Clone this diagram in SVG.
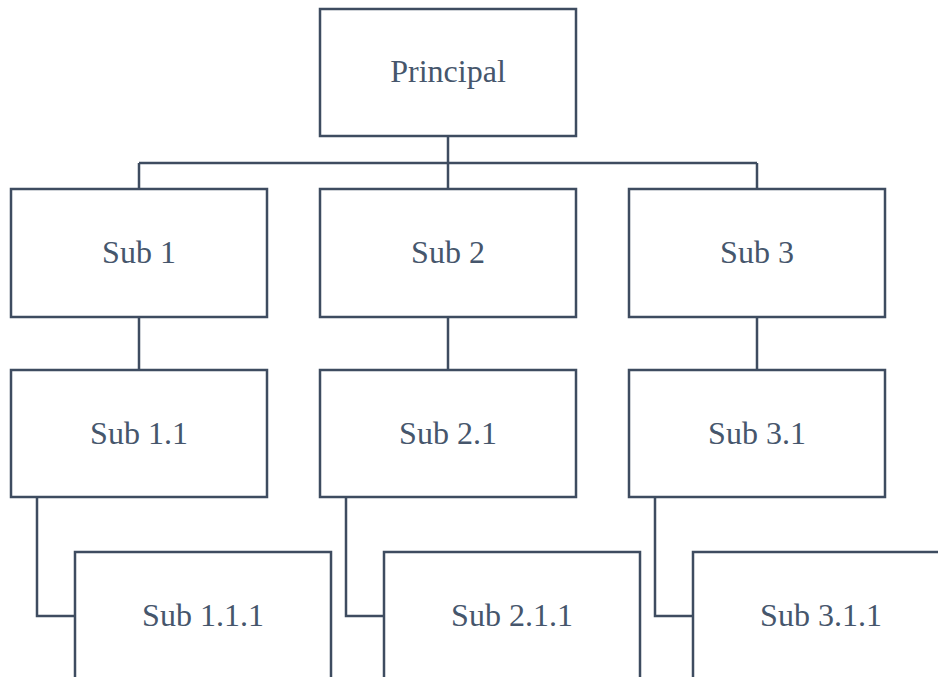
<svg xmlns="http://www.w3.org/2000/svg" width="938" height="677" viewBox="0 0 938 677">
<style>
.box{fill:#ffffff;stroke:#3e4c60;stroke-width:2.5}
.lbl{font-family:"Liberation Serif","Times New Roman",serif;font-size:32px;fill:#46566c;text-anchor:middle}
.con{fill:none;stroke:#3e4c60;stroke-width:2.5}
</style>
<rect width="938" height="677" fill="#ffffff"/>
<g id="connectors">
<path class="con" d="M448 136V189M139 163H757M139 163V189M757 163V189"/>
<path class="con" d="M139 317V370M448 317V370M757 317V370"/>
<path class="con" d="M37 497V616H75M346 497V616H384M655 497V616H693"/>
</g>
<g id="principal"><rect class="box" x="320" y="9" width="256" height="127"/><text class="lbl" x="448" y="82">Principal</text></g>
<g id="sub1"><rect class="box" x="11" y="189" width="256" height="128"/><text class="lbl" x="139" y="263">Sub 1</text></g>
<g id="sub2"><rect class="box" x="320" y="189" width="256" height="128"/><text class="lbl" x="448" y="263">Sub 2</text></g>
<g id="sub3"><rect class="box" x="629" y="189" width="256" height="128"/><text class="lbl" x="757" y="263">Sub 3</text></g>
<g id="sub1_1"><rect class="box" x="11" y="370" width="256" height="127"/><text class="lbl" x="139" y="444">Sub 1.1</text></g>
<g id="sub2_1"><rect class="box" x="320" y="370" width="256" height="127"/><text class="lbl" x="448" y="444">Sub 2.1</text></g>
<g id="sub3_1"><rect class="box" x="629" y="370" width="256" height="127"/><text class="lbl" x="757" y="444">Sub 3.1</text></g>
<g id="sub1_1_1"><rect class="box" x="75" y="552" width="256" height="127"/><text class="lbl" x="203" y="626">Sub 1.1.1</text></g>
<g id="sub2_1_1"><rect class="box" x="384" y="552" width="256" height="127"/><text class="lbl" x="512" y="626">Sub 2.1.1</text></g>
<g id="sub3_1_1"><rect class="box" x="693" y="552" width="256" height="127"/><text class="lbl" x="821" y="626">Sub 3.1.1</text></g>
</svg>
